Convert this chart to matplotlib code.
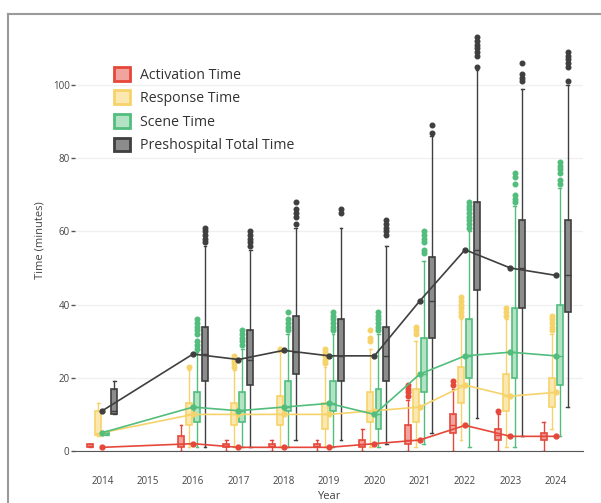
import matplotlib.pyplot as plt
from matplotlib.patches import Patch
from matplotlib.lines import Line2D

# years with data (2015 has none) and the tick years
years = [2014, 2016, 2017, 2018, 2019, 2020, 2021, 2022, 2023, 2024]
tick_years = [2014, 2015, 2016, 2017, 2018, 2019, 2020, 2021, 2022, 2023, 2024]

# Activation time
act_lo = [1, 0, 0, 0, 0, 0, 0, 0, 0, 0]
act_q1 = [1, 1, 1, 1, 1, 1, 2, 5, 3, 3]
act_med = [1.5, 2, 1.5, 1.5, 1.5, 2, 3, 7, 4.5, 4]
act_q3 = [2, 4, 2, 2, 2, 3, 7, 10, 6, 5]
act_hi = [2, 7, 3, 3, 3, 6, 14, 17, 10, 8]
act_out = [[], [], [], [], [], [], [15, 16, 17, 18], [18, 19], [11], []]
act_line = [1, 2, 1, 1, 1, 2, 3, 7, 4, 4]

# Response time
res_lo = [4, 1, 1, 1, 1, 1, 1, 3, 1, 6]
res_q1 = [4.4, 7, 7, 7, 6, 8, 8, 13, 11, 12]
res_med = [5, 10, 10, 10, 10, 11, 12, 18, 15, 16]
res_q3 = [11, 13, 13, 15, 13, 16, 17, 23, 21, 20]
res_hi = [13, 22, 22, 27, 23, 28, 30, 36, 36, 32]
res_out = [[], [23], [23, 24, 25, 26], [28], [24, 25, 26, 27, 28], [30, 31, 33],
           [32, 33, 34], [37, 38, 39, 40, 41, 42], [37, 38, 39], [33, 34, 35, 36, 37]]
res_line = [5, 10, 10, 10, 10, 11, 12, 18, 15, 16]

# Scene time
sc_lo = [4.3, 1, 1, 1, 1, 1, 2, 1, 1, 4]
sc_q1 = [4.5, 8, 8, 11, 11, 6, 16, 20, 20, 18]
sc_med = [5, 12, 11, 12, 13, 10, 21, 26, 27, 26]
sc_q3 = [5.3, 16, 16, 19, 19, 17, 31, 36, 39, 40]
sc_hi = [5.5, 27, 28, 32, 32, 32, 52, 60, 67, 72]
sc_out = [[], [28, 29, 30, 32, 33, 34, 35, 36], [29, 30, 31, 32, 33], [33, 34, 35, 36, 38],
          [33, 34, 35, 36, 37, 38], [33, 34, 35, 36, 37, 38], [54, 55, 57, 58, 59, 60],
          [61, 62, 63, 64, 65, 66, 67, 68], [68, 69, 70, 73, 75, 76], [73, 74, 76, 77, 78, 79]]
sc_line = [5, 12, 11, 12, 13, 10, 21, 26, 27, 26]

# Prehospital total time
tot_lo = [10, 1, 1, 3, 3, 2, 5, 9, 4, 12]
tot_q1 = [10, 19, 18, 21, 19, 19, 31, 44, 39, 38]
tot_med = [11, 26.5, 25, 27, 26, 26, 41, 55, 50, 48]
tot_q3 = [17, 34, 33, 37, 36, 34, 53, 68, 63, 63]
tot_hi = [19, 56, 55, 61, 61, 56, 86, 104, 99, 100]
tot_out = [[], [57, 58, 59, 60, 61], [56, 57, 58, 59, 60], [62, 64, 65, 66, 68], [65, 66],
           [59, 60, 61, 62, 63], [87, 89], [105, 108, 109, 110, 111, 112, 113],
           [101, 102, 103, 106], [101, 105, 106, 107, 108, 109]]
tot_line = [11, 26.5, 25, 27.5, 26, 26, 41, 55, 50, 48]

labels = ["Activation Time", "Response Time", "Scene Time", "Preshospital Total Time"]
edges = ["#e5483a", "#f6d36a", "#52bd7d", "#3f3f3f"]
fills = ["#f1a39d", "#fbe8b0", "#b3e2c4", "#8c8c8c"]
offsets = [-0.265, -0.09, 0.09, 0.265]

series = [
    (act_lo, act_q1, act_med, act_q3, act_hi, act_out, act_line),
    (res_lo, res_q1, res_med, res_q3, res_hi, res_out, res_line),
    (sc_lo, sc_q1, sc_med, sc_q3, sc_hi, sc_out, sc_line),
    (tot_lo, tot_q1, tot_med, tot_q3, tot_hi, tot_out, tot_line),
]

plt.rcParams['font.family'] = ['Open Sans', 'DejaVu Sans']

fig = plt.figure(figsize=(6.01, 5.03), dpi=100)
ax = fig.add_axes([0.125, 0.1034, 0.845, 0.8366])

for i, (lo, q1, med, q3, hi, out, line) in enumerate(series):
    stats = []
    for j in range(len(years)):
        stats.append({'whislo': lo[j], 'q1': q1[j], 'med': med[j], 'q3': q3[j],
                      'whishi': hi[j], 'fliers': out[j]})
    pos = [y + offsets[i] for y in years]
    ax.bxp(stats, positions=pos, widths=0.13, capwidths=0.06, patch_artist=True,
           showfliers=True, manage_ticks=False,
           boxprops=dict(facecolor=fills[i], edgecolor=edges[i], linewidth=1.2),
           medianprops=dict(color=edges[i], linewidth=1.0),
           whiskerprops=dict(color=edges[i], linewidth=1.0),
           capprops=dict(color=edges[i], linewidth=1.0),
           flierprops=dict(marker='o', markersize=3.3, markerfacecolor=edges[i],
                           markeredgecolor=edges[i]))

for i, s in enumerate(series):
    ax.plot(years, s[6], color=edges[i], linewidth=1.2, marker='o', markersize=3.5, zorder=5)

ax.set_xlim(2013.4, 2024.6)
ax.set_ylim(0, 115)
ax.set_xticks(tick_years)
ax.set_xticklabels([str(y) for y in tick_years])
ax.set_yticks([0, 20, 40, 60, 80, 100])
ax.yaxis.grid(True, color='#f0f0f0', linewidth=1)
ax.set_axisbelow(True)
for side in ['top', 'right', 'left']:
    ax.spines[side].set_visible(False)
ax.spines['bottom'].set_color('#555555')
ax.tick_params(axis='x', length=0, pad=18, labelsize=7, labelcolor='#444444')
ax.tick_params(axis='y', length=3, width=1, color='#555555', pad=1, labelsize=7, labelcolor='#444444')
ax.set_xlabel("Year", fontsize=8, color='#444444', labelpad=3)
ax.set_ylabel("Time (minutes)", fontsize=8, color='#444444', labelpad=5)

handles = [Patch(facecolor=fills[i], edgecolor=edges[i], linewidth=2) for i in range(4)]
ax.legend(handles, labels, loc='upper left', bbox_to_anchor=(0.051, 0.943), frameon=False,
          fontsize=10.2, handlelength=1.13, handleheight=1.13, handletextpad=0.75,
          labelspacing=0.55, borderpad=0.4, labelcolor='#333333')

# gray frame on the left and top
fig.add_artist(Line2D([0.0133, 0.0133], [0, 0.973], color='#9a9a9a', linewidth=1.5))
fig.add_artist(Line2D([0.0133, 1], [0.973, 0.973], color='#9a9a9a', linewidth=1.5))

fig.savefig('out.png', dpi=100)
